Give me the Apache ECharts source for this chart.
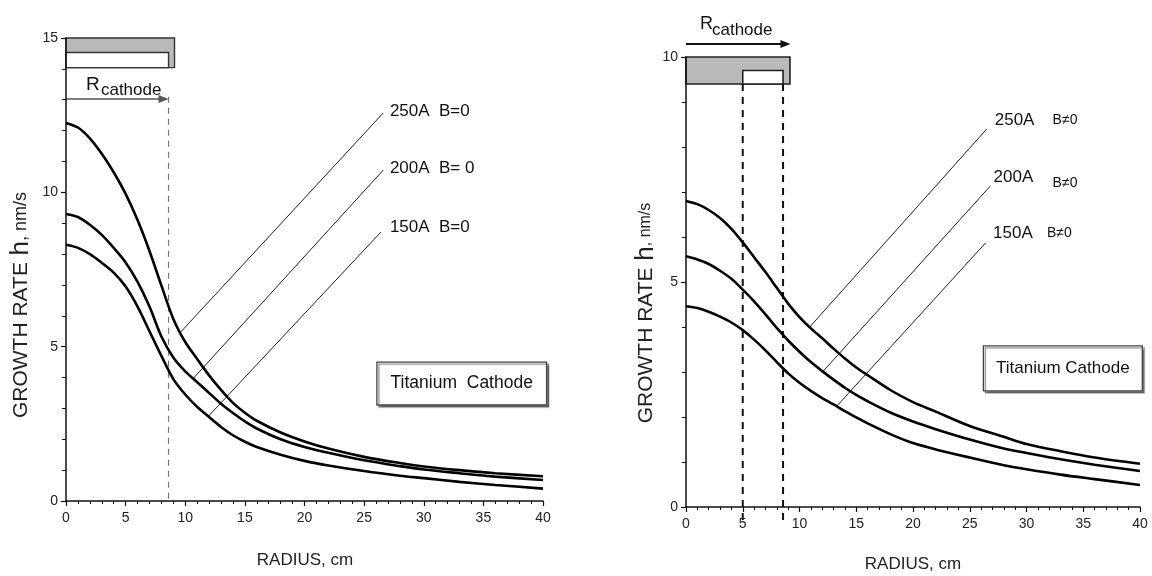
<!DOCTYPE html>
<html>
<head>
<meta charset="utf-8">
<script src="https://cdn.jsdelivr.net/npm/echarts@6/dist/echarts.min.js"></script>
<style>
  html, body { margin: 0; padding: 0; background: #fff; }
  #chart { width: 1152px; height: 576px; }
</style>
</head>
<body>
<div id="chart"></div>
<script>
// Radial positions (cm) where the growth rate is given
const radius = [0, 1, 2, 3, 4, 5, 6, 7, 8, 9, 10, 11, 12, 13, 14, 15, 16, 18, 20, 22, 25, 28, 30, 33, 36, 40];

// Growth rate h (nm/s) without magnetic field
const h250_B0 = [12.25, 12.1, 11.75, 11.25, 10.65, 9.95, 9.1, 8.1, 6.98, 5.9, 5.15, 4.6, 4.07, 3.6, 3.18, 2.86, 2.6, 2.22, 1.93, 1.7, 1.43, 1.23, 1.12, 1.0, 0.9, 0.8];
const h200_B0 = [9.3, 9.2, 8.95, 8.62, 8.2, 7.73, 7.1, 6.3, 5.33, 4.65, 4.2, 3.85, 3.5, 3.15, 2.85, 2.58, 2.35, 2.0, 1.75, 1.56, 1.32, 1.13, 1.02, 0.9, 0.79, 0.68];
const h150_B0 = [8.3, 8.2, 8.0, 7.72, 7.4, 6.95, 6.3, 5.5, 4.7, 3.95, 3.45, 3.05, 2.72, 2.4, 2.13, 1.92, 1.75, 1.5, 1.3, 1.15, 0.97, 0.82, 0.74, 0.62, 0.52, 0.4];

// Growth rate h (nm/s) with magnetic field
const h250_B = [6.8, 6.73, 6.6, 6.42, 6.18, 5.88, 5.55, 5.22, 4.87, 4.52, 4.22, 3.97, 3.75, 3.52, 3.3, 3.1, 2.93, 2.6, 2.33, 2.12, 1.8, 1.56, 1.4, 1.24, 1.1, 0.96];
const h200_B = [5.57, 5.5, 5.4, 5.25, 5.07, 4.83, 4.57, 4.28, 3.98, 3.7, 3.45, 3.22, 3.02, 2.83, 2.65, 2.49, 2.35, 2.1, 1.9, 1.73, 1.5, 1.3, 1.2, 1.06, 0.94, 0.8];
const h150_B = [4.46, 4.42, 4.34, 4.23, 4.1, 3.93, 3.72, 3.48, 3.22, 2.97, 2.76, 2.58, 2.42, 2.28, 2.13, 1.99, 1.86, 1.62, 1.42, 1.28, 1.1, 0.93, 0.84, 0.72, 0.62, 0.49];

// Axis ticks
const xTicks = [0, 5, 10, 15, 20, 25, 30, 35, 40];
const yTicksLeft = [0, 5, 10, 15];
const yTicksRight = [0, 5, 10];

// Curve labels
const labelsB0 = ['250A  B=0', '200A  B= 0', '150A  B=0'];
const currentsB = ['250A', '200A', '150A'];
const fieldB = 'B\u22600';

// Cathode radii (cm)
const rCathodeLeft = 8.6;
const rCathodeRightInner = 5.0;
const rCathodeRightOuter = 8.55;

const SANS = "'Liberation Sans',Arial,sans-serif";

function pairs(xs, ys) { return xs.map((x, i) => [x, ys[i]]); }

function makeX(gi) {
  return {
    type: 'value', gridIndex: gi, min: xTicks[0], max: xTicks[xTicks.length - 1], interval: 5,
    axisLine: { lineStyle: { color: '#111', width: 1.5 } },
    axisTick: { length: 5, lineStyle: { color: '#111', width: 1.2 } },
    minorTick: { show: true, splitNumber: 5, length: 3, lineStyle: { color: '#111' } },
    splitLine: { show: false },
    axisLabel: { color: '#222', fontFamily: SANS, fontSize: 14, margin: 10 }
  };
}
function makeY(gi, ticks) {
  return {
    type: 'value', gridIndex: gi, min: ticks[0], max: ticks[ticks.length - 1], interval: 5,
    axisLine: { show: true, lineStyle: { color: '#111', width: 1.5 } },
    axisTick: { show: true, length: 5, lineStyle: { color: '#111', width: 1.2 } },
    minorTick: { show: true, splitNumber: 5, length: 4, lineStyle: { color: '#111' } },
    splitLine: { show: false },
    axisLabel: { color: '#222', fontFamily: SANS, fontSize: 14, margin: 8 }
  };
}
function curve(gi, ys) {
  return {
    type: 'line', xAxisIndex: gi, yAxisIndex: gi, data: pairs(radius, ys),
    smooth: 0.3, showSymbol: false, silent: true,
    lineStyle: { color: '#000', width: 2.6 }
  };
}

const chart = echarts.init(document.getElementById('chart'));
chart.setOption({
  animation: false,
  backgroundColor: '#fff',
  grid: [
    { left: 66, right: 609, top: 38, bottom: 75 },
    { left: 686, right: 12, top: 57, bottom: 69 }
  ],
  xAxis: [makeX(0), makeX(1)],
  yAxis: [makeY(0, yTicksLeft), makeY(1, yTicksRight)],
  series: [
    curve(0, h250_B0), curve(0, h200_B0), curve(0, h150_B0),
    curve(1, h250_B), curve(1, h200_B), curve(1, h150_B)
  ]
});

// Annotations, placed in data units of each panel
const P = (g, x, y) => chart.convertToPixel({ gridIndex: g }, [x, y]);

function rect(g, x0, y0, x1, y1, style) {
  const a = P(g, x0, y0), b = P(g, x1, y1);
  return { type: 'rect', shape: { x: Math.min(a[0], b[0]), y: Math.min(a[1], b[1]), width: Math.abs(b[0] - a[0]), height: Math.abs(b[1] - a[1]) }, style: style, silent: true };
}
function seg(g, x0, y0, x1, y1, style) {
  const a = P(g, x0, y0), b = P(g, x1, y1);
  return { type: 'line', shape: { x1: a[0], y1: a[1], x2: b[0], y2: b[1] }, style: style, silent: true };
}
function arrow(g, x0, x1, y, color, w) {
  const a = P(g, x0, y), b = P(g, x1, y);
  return [
    { type: 'line', shape: { x1: a[0], y1: a[1], x2: b[0] - 6, y2: b[1] }, style: { stroke: color, lineWidth: w }, silent: true },
    { type: 'polygon', shape: { points: [[b[0], b[1]], [b[0] - 10, b[1] - 4], [b[0] - 10, b[1] + 4]] }, style: { fill: color }, silent: true }
  ];
}
function text(g, x, y, str, font, align) {
  const p = P(g, x, y);
  return { type: 'text', x: p[0], y: p[1], style: { text: str, font: font, fill: '#111', align: align || 'left', verticalAlign: 'middle' }, silent: true };
}
function box(g, x0, y0, x1, y1, label, font) {
  const a = P(g, x0, y0), b = P(g, x1, y1);
  return [
    { type: 'rect', shape: { x: a[0], y: a[1], width: b[0] - a[0], height: b[1] - a[1] },
      style: { fill: '#fff', stroke: '#444', lineWidth: 1.3, shadowColor: 'rgba(0,0,0,0.45)', shadowOffsetX: 2, shadowOffsetY: 2, shadowBlur: 1 }, silent: true },
    { type: 'text', x: (a[0] + b[0]) / 2, y: (a[1] + b[1]) / 2, style: { text: label, font: font, fill: '#111', align: 'center', verticalAlign: 'middle' }, silent: true }
  ];
}

const gray = '#b9b9b9';
const leadersLeft = [[[9.56, 5.45], [26.6, 12.57]], [[10.67, 3.97], [26.6, 10.72]], [[11.93, 2.74], [26.4, 8.71]]];
const labelPosLeft = [[27.16, 12.63], [27.16, 10.79], [27.16, 8.88]];
const leadersRight = [[[10.9, 4.0], [26.5, 8.4]], [[12.1, 3.02], [26.8, 7.13]], [[13.28, 2.24], [26.4, 5.87]]];
const currentPosRight = [[27.2, 8.6], [27.1, 7.33], [27.05, 6.09]];
const fieldPosRight = [[32.3, 8.6], [32.3, 7.2], [31.8, 6.09]];

const g = [];

// Left panel: cathode sketch, radius arrow and boundary
g.push(rect(0, 0, 15, 9.1, 14.04, { fill: gray, stroke: '#333', lineWidth: 1.4 }));
g.push(rect(0, 0, 14.53, rCathodeLeft, 14.04, { fill: '#fff', stroke: '#333', lineWidth: 1.4 }));
g.push(...arrow(0, 0, rCathodeLeft, 13.02, '#555', 1.5));
g.push(seg(0, rCathodeLeft, 13.1, rCathodeLeft, 0, { stroke: '#777', lineWidth: 1.2, lineDash: [6, 5] }));
g.push(text(0, 1.68, 13.5, 'R', '19px ' + SANS));
g.push(text(0, 2.93, 13.3, 'cathode', '17px ' + SANS));

// Left panel: leaders and labels
leadersLeft.forEach((l, i) => {
  g.push(seg(0, l[0][0], l[0][1], l[1][0], l[1][1], { stroke: '#222', lineWidth: 1 }));
  g.push(text(0, labelPosLeft[i][0], labelPosLeft[i][1], labelsB0[i], '17px ' + SANS));
});
g.push(...box(0, 26.07, 4.5, 40.3, 3.11, 'Titanium  Cathode', '17.5px ' + SANS));

// Right panel: cathode sketch, radius arrow and boundaries
g.push(rect(1, 0, 10, 9.16, 9.4, { fill: gray, stroke: '#222', lineWidth: 1.6 }));
g.push(rect(1, rCathodeRightInner, 9.7, rCathodeRightOuter, 9.4, { fill: '#fff', stroke: '#222', lineWidth: 1.6 }));
g.push(...arrow(1, 0, 9.2, 10.29, '#111', 2));
g.push(seg(1, rCathodeRightInner, 9.4, rCathodeRightInner, -0.3, { stroke: '#111', lineWidth: 2, lineDash: [7, 6] }));
g.push(seg(1, rCathodeRightOuter, 9.4, rCathodeRightOuter, -0.3, { stroke: '#111', lineWidth: 2, lineDash: [7, 6] }));
g.push(text(1, 1.23, 10.74, 'R', '18px ' + SANS));
g.push(text(1, 2.29, 10.6, 'cathode', '17px ' + SANS));

leadersRight.forEach((l, i) => {
  g.push(seg(1, l[0][0], l[0][1], l[1][0], l[1][1], { stroke: '#222', lineWidth: 1 }));
  g.push(text(1, currentPosRight[i][0], currentPosRight[i][1], currentsB[i], '17px ' + SANS));
  g.push(text(1, fieldPosRight[i][0], fieldPosRight[i][1], fieldB, '14px ' + SANS));
});
g.push(...box(1, 26.2, 3.58, 40.2, 2.58, 'Titanium Cathode', '17px ' + SANS));

// Axis titles
function yTitle(x, y, small) {
  return {
    type: 'text', x: x, y: y, rotation: Math.PI / 2, silent: true,
    style: {
      text: '{a|GROWTH RATE}  {b|h}{c|, nm/s}', align: 'center', verticalAlign: 'middle', fill: '#222',
      rich: {
        a: { fontFamily: SANS, fontSize: 21, fill: '#222' },
        b: { fontFamily: SANS, fontSize: 26, fill: '#222' },
        c: { fontFamily: SANS, fontSize: small, fill: '#222' }
      }
    }
  };
}
g.push(yTitle(21, 305, 18));
g.push(yTitle(646, 313, 16));
g.push({ type: 'text', x: 305, y: 560, silent: true, style: { text: 'RADIUS, cm', font: '17px ' + SANS, fill: '#222', align: 'center', verticalAlign: 'middle' } });
g.push({ type: 'text', x: 913, y: 564, silent: true, style: { text: 'RADIUS, cm', font: '17px ' + SANS, fill: '#222', align: 'center', verticalAlign: 'middle' } });

chart.setOption({ graphic: g });
</script>
</body>
</html>
